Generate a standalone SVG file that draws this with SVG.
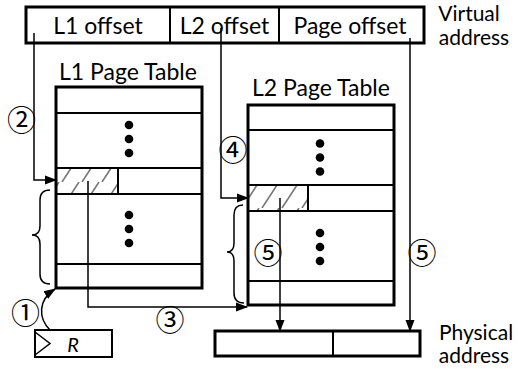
<svg xmlns="http://www.w3.org/2000/svg" width="518" height="369" viewBox="0 0 518 369">
<style>
.t{font-family:Lato,"Liberation Sans",sans-serif;font-size:23px;fill:#000}
.s{font-family:Lato,"Liberation Sans",sans-serif;font-size:21px;fill:#000;text-anchor:middle}
.c{font-family:"Noto Sans CJK JP",sans-serif;font-size:29px;fill:#000;text-anchor:middle}
.box{fill:#fff;stroke:#000;stroke-width:3}
.ln{stroke:#000;stroke-width:2;fill:none}
.ar{stroke:#000;stroke-width:1.5;fill:none}
.dot{fill:#000}
</style>
<defs>
<marker id="ah" viewBox="0 0 12 10" refX="11" refY="5" markerWidth="12" markerHeight="10" markerUnits="userSpaceOnUse" orient="auto">
<path d="M0,0.5 L12,5 L0,9.5 z" fill="#000"/>
</marker>
<pattern id="hatch" patternUnits="userSpaceOnUse" width="20" height="26" x="0" y="0">
<line x1="2" y1="26" x2="19" y2="0" stroke="#777" stroke-width="1.6"/>
</pattern>
</defs>

<g id="virtual-address">
<rect class="box" x="26" y="7" width="398" height="36"/>
<line class="ln" x1="170" y1="7" x2="170" y2="43" stroke-width="2.5"/>
<line class="ln" x1="279" y1="7" x2="279" y2="43" stroke-width="2.5"/>
<text class="t" x="98" y="34" text-anchor="middle">L1 offset</text>
<text class="t" x="224.5" y="34" text-anchor="middle">L2 offset</text>
<text class="t" x="350" y="34" text-anchor="middle">Page offset</text>
<text class="s" x="469" y="21">Virtual</text>
<text class="s" x="474" y="45">address</text>
</g>

<g id="l1-table">
<text class="t" x="128" y="80" text-anchor="middle">L1 Page Table</text>
<rect x="56" y="168" width="62" height="26" fill="url(#hatch)"/>
<rect class="box" x="56" y="87" width="146" height="201" style="fill:none"/>
<line class="ln" x1="56" y1="113" x2="202" y2="113"/>
<line class="ln" x1="56" y1="168" x2="202" y2="168"/>
<line class="ln" x1="56" y1="194" x2="202" y2="194"/>
<line class="ln" x1="56" y1="264" x2="202" y2="264"/>
<line class="ln" x1="118" y1="168" x2="118" y2="194"/>
<circle class="dot" cx="129" cy="125" r="4.3"/>
<circle class="dot" cx="129" cy="139" r="4.3"/>
<circle class="dot" cx="129" cy="153" r="4.3"/>
<circle class="dot" cx="129" cy="215" r="4.3"/>
<circle class="dot" cx="129" cy="229" r="4.3"/>
<circle class="dot" cx="129" cy="243" r="4.3"/>
<path class="ar" d="M50,190 Q40,190 40,200 L40,226 Q40,235 32,235 Q40,235 40,244 L40,274 Q40,284 50,284"/>
</g>

<g id="l2-table">
<text class="t" x="321" y="96" text-anchor="middle">L2 Page Table</text>
<rect x="248" y="185" width="60" height="26" fill="url(#hatch)"/>
<rect class="box" x="248" y="105" width="146" height="200" style="fill:none"/>
<line class="ln" x1="248" y1="130" x2="394" y2="130"/>
<line class="ln" x1="248" y1="185" x2="394" y2="185"/>
<line class="ln" x1="248" y1="211" x2="394" y2="211"/>
<line class="ln" x1="248" y1="281" x2="394" y2="281"/>
<line class="ln" x1="308" y1="185" x2="308" y2="211"/>
<circle class="dot" cx="320" cy="143.5" r="4.3"/>
<circle class="dot" cx="320" cy="157.5" r="4.3"/>
<circle class="dot" cx="320" cy="171.5" r="4.3"/>
<circle class="dot" cx="320" cy="233" r="4.3"/>
<circle class="dot" cx="320" cy="247" r="4.3"/>
<circle class="dot" cx="320" cy="261" r="4.3"/>
<path class="ar" d="M243,205 Q234,205 234,215 L234,243 Q234,252 227,252 Q234,252 234,261 L234,293 Q234,303 244,303"/>
</g>

<g id="physical-address">
<rect class="box" x="215" y="331" width="205" height="25"/>
<line class="ln" x1="333" y1="331" x2="333" y2="356" stroke-width="2.5"/>
<text class="s" x="476" y="340">Physical</text>
<text class="s" x="474" y="363">address</text>
</g>

<g id="register-r">
<rect x="35" y="330" width="77" height="27" fill="#fff" stroke="#000" stroke-width="2"/>
<path d="M35,332 L50,343.5 L35,355" fill="none" stroke="#000" stroke-width="1.5"/>
<text x="73" y="352" font-family="Lato,'Liberation Sans',sans-serif" font-size="20" font-style="italic" text-anchor="middle">R</text>
</g>

<g id="connectors">
<path class="ar" d="M34,33 L34,180 L56,180" marker-end="url(#ah)"/>
<path class="ar" d="M221,28 L221,198 L248,198" marker-end="url(#ah)"/>
<path class="ar" d="M88,181 L88,307 L247,307" marker-end="url(#ah)"/>
<path class="ar" d="M280,198 L280,331" marker-end="url(#ah)"/>
<path class="ar" d="M410,38 L410,331" marker-end="url(#ah)"/>
<path class="ar" d="M50,330 C38,318 38,300 55,289" marker-end="url(#ah)"/>
</g>

<g id="step-labels">
<text class="c" x="25.5" y="323.5">①</text>
<text class="c" x="21.5" y="130.5">②</text>
<text class="c" x="170" y="330.5">③</text>
<text class="c" x="233" y="160.5">④</text>
<text class="c" x="268" y="263.5">⑤</text>
<text class="c" x="422" y="263.5">⑤</text>
</g>
</svg>
